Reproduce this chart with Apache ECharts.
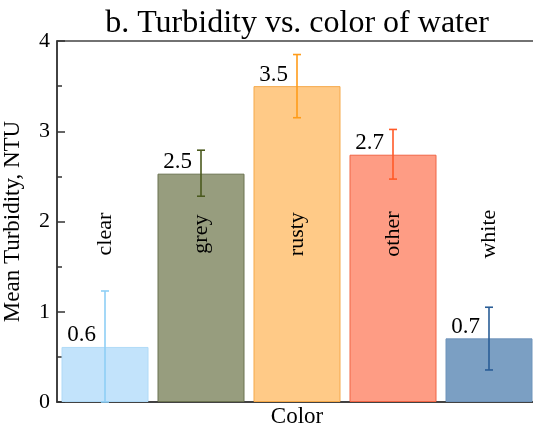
<!DOCTYPE html>
<html>
<head>
<meta charset="utf-8">
<script src="https://cdn.jsdelivr.net/npm/echarts@6/dist/echarts.min.js"></script>
<style>html,body{margin:0;padding:0;background:#fff}#c{width:533px;height:429px}</style>
</head>
<body>
<div id="c"></div>
<script>
const categories = ['clear', 'grey', 'rusty', 'other', 'white'];
const meanTurbidity = [0.61, 2.53, 3.50, 2.74, 0.705];
const errLow = [0.0, 2.28, 3.15, 2.47, 0.355];
const errHigh = [1.23, 2.79, 3.85, 3.02, 1.05];
const yTicks = [0, 1, 2, 3, 4];

const fillColors = ['#c2e3fb', '#979d7e', '#ffca87', '#fe9c84', '#7b9fc3'];
const borderColors = ['#b0daf7', '#6b7350', '#f5a94a', '#f06545', '#6f94bb'];
const errColors = ['#8ecff5', '#4b5a1e', '#ff9c1a', '#ff5a28', '#2a5d96'];

const FONT = "'Liberation Serif', 'Times New Roman', serif";
const chart = echarts.init(document.getElementById('c'), null, {renderer: 'canvas'});

const option = {
  animation: false,
  backgroundColor: '#fff',
  title: {
    text: 'b. Turbidity vs. color of water',
    left: 292, top: 3, textAlign: 'center',
    textStyle: {fontFamily: FONT, fontSize: 32, fontWeight: 'normal', color: '#000'}
  },
  grid: {left: 57, top: 41, width: 480, height: 361, containLabel: false, outerBoundsMode: 'none',
    show: true, borderColor: '#444', borderWidth: 1.5, backgroundColor: 'transparent'},
  xAxis: {
    type: 'category', data: categories,
    name: 'Color', nameLocation: 'middle', nameGap: 3,
    nameTextStyle: {fontFamily: FONT, fontSize: 23, color: '#000'},
    axisLine: {lineStyle: {color: '#333', width: 1.5}},
    axisTick: {show: false}, axisLabel: {show: false}, splitLine: {show: false}
  },
  yAxis: {
    type: 'value', min: yTicks[0], max: yTicks[yTicks.length - 1], interval: 1,
    name: 'Mean Turbidity, NTU', nameLocation: 'middle', nameGap: 33,
    nameTextStyle: {fontFamily: FONT, fontSize: 23, color: '#000'},
    axisLine: {show: true, lineStyle: {color: '#333', width: 1.5}},
    axisTick: {show: true, inside: true, length: 8, lineStyle: {color: '#333', width: 1.5}},
    minorTick: {show: true, splitNumber: 2, length: 5, lineStyle: {color: '#333', width: 1.5}},
    axisLabel: {fontFamily: FONT, fontSize: 22, color: '#000', margin: 7},
    splitLine: {show: false}
  },
  series: [
    {
      type: 'bar', barWidth: 87,
      data: meanTurbidity.map((v, i) => ({
        value: v,
        itemStyle: {color: fillColors[i], borderColor: borderColors[i], borderWidth: 1}
      })),
      label: {
        show: true, position: 'top', distance: 0, align: 'right', offset: [-9, 0],
        fontFamily: FONT, fontSize: 23, color: '#000',
        formatter: p => p.value.toFixed(1)
      },
      z: 2
    },
    {
      type: 'custom', z: 5,
      data: categories.map((c, i) => [i, errLow[i], errHigh[i]]),
      renderItem: (params, api) => {
        const i = api.value(0);
        const lo = api.coord([i, api.value(1)]);
        const hi = api.coord([i, api.value(2)]);
        const cw = 4;
        const st = {stroke: errColors[i], lineWidth: 1.6};
        return {type: 'group', children: [
          {type: 'line', shape: {x1: lo[0], y1: lo[1], x2: hi[0], y2: hi[1]}, style: st},
          {type: 'line', shape: {x1: hi[0] - cw, y1: hi[1], x2: hi[0] + cw, y2: hi[1]}, style: st},
          {type: 'line', shape: {x1: lo[0] - cw, y1: lo[1], x2: lo[0] + cw, y2: lo[1]}, style: st}
        ]};
      }
    },
    {
      type: 'custom', z: 6, silent: true,
      data: categories.map((c, i) => [i, 1.86]),
      renderItem: (params, api) => {
        const i = api.value(0);
        const p = api.coord([i, api.value(1)]);
        return {
          type: 'text', x: p[0], y: p[1], rotation: Math.PI / 2,
          style: {text: categories[i], fontFamily: FONT, fontSize: 22, fill: '#000',
            align: 'center', verticalAlign: 'middle'}
        };
      }
    }
  ]
};
chart.setOption(option);
</script>
</body>
</html>
